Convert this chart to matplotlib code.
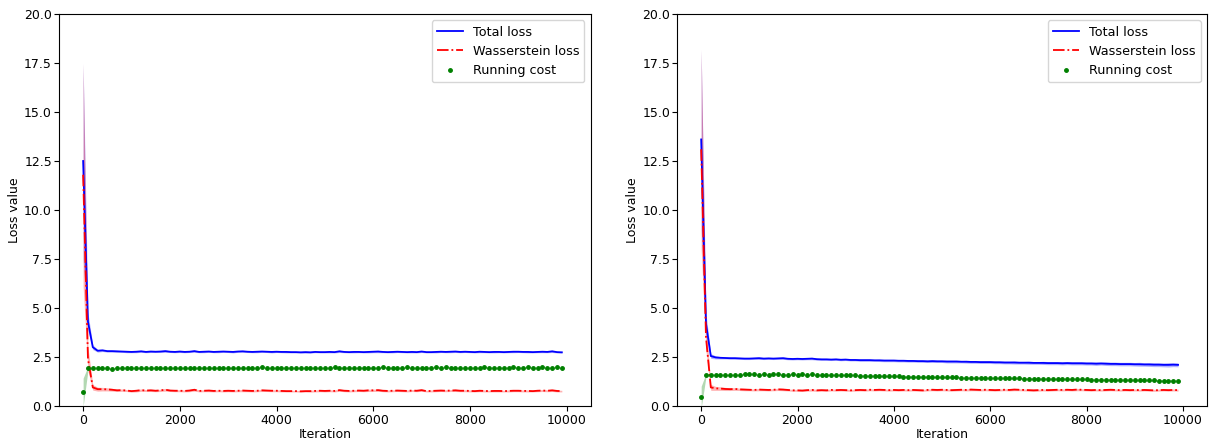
import numpy as np
import matplotlib
matplotlib.use('Agg')
import matplotlib.pyplot as plt

plt.rcParams['font.size'] = 9

iteration = list(range(0, 10000, 100))

# left run
total_a = [12.5, 4.3, 3.0, 2.82, 2.84, 2.80, 2.80, 2.79, 2.78, 2.77,
           2.76, 2.77, 2.79, 2.76, 2.78, 2.77, 2.78, 2.80, 2.77, 2.76,
           2.78, 2.76, 2.77, 2.80, 2.76, 2.77, 2.78, 2.76, 2.77, 2.78,
           2.77, 2.76, 2.78, 2.79, 2.77, 2.76, 2.77, 2.78, 2.77, 2.76,
           2.77, 2.76, 2.76, 2.75, 2.75, 2.74, 2.75, 2.74, 2.76, 2.75,
           2.75, 2.76, 2.75, 2.79, 2.76, 2.75, 2.76, 2.76, 2.75, 2.76,
           2.77, 2.78, 2.76, 2.75, 2.76, 2.77, 2.76, 2.75, 2.76, 2.75,
           2.78, 2.75, 2.75, 2.76, 2.77, 2.76, 2.77, 2.78, 2.76, 2.77,
           2.76, 2.75, 2.77, 2.76, 2.75, 2.76, 2.76, 2.75, 2.76, 2.77,
           2.77, 2.76, 2.76, 2.75, 2.76, 2.77, 2.76, 2.79, 2.75, 2.74]
total_a_sd = [5.0, 0.45, 0.12, 0.07, 0.06, 0.05, 0.05, 0.05, 0.04, 0.05,
              0.04, 0.05, 0.05, 0.04, 0.05, 0.04, 0.05, 0.06, 0.04, 0.04,
              0.05, 0.04, 0.04, 0.06, 0.04, 0.05, 0.04, 0.04, 0.05, 0.04,
              0.04, 0.05, 0.04, 0.05, 0.04, 0.04, 0.05, 0.04, 0.04, 0.05,
              0.04, 0.04, 0.05, 0.04, 0.04, 0.04, 0.05, 0.04, 0.04, 0.04,
              0.04, 0.05, 0.04, 0.06, 0.04, 0.04, 0.05, 0.04, 0.04, 0.05,
              0.05, 0.06, 0.04, 0.04, 0.05, 0.04, 0.04, 0.04, 0.05, 0.04,
              0.05, 0.04, 0.04, 0.05, 0.04, 0.04, 0.05, 0.05, 0.04, 0.04,
              0.04, 0.04, 0.05, 0.04, 0.04, 0.05, 0.04, 0.04, 0.04, 0.05,
              0.04, 0.04, 0.05, 0.04, 0.04, 0.05, 0.04, 0.06, 0.04, 0.04]
wass_a = [11.8, 2.4, 0.95, 0.86, 0.86, 0.85, 0.83, 0.80, 0.81, 0.79,
          0.76, 0.78, 0.81, 0.79, 0.80, 0.78, 0.80, 0.83, 0.79, 0.78,
          0.78, 0.77, 0.79, 0.83, 0.77, 0.78, 0.79, 0.77, 0.78, 0.77,
          0.78, 0.77, 0.78, 0.79, 0.78, 0.77, 0.78, 0.80, 0.79, 0.78,
          0.78, 0.77, 0.76, 0.76, 0.76, 0.75, 0.76, 0.76, 0.77, 0.78,
          0.77, 0.78, 0.77, 0.81, 0.78, 0.77, 0.78, 0.79, 0.78, 0.80,
          0.80, 0.81, 0.78, 0.77, 0.78, 0.79, 0.78, 0.77, 0.79, 0.78,
          0.81, 0.76, 0.77, 0.78, 0.79, 0.78, 0.79, 0.80, 0.78, 0.78,
          0.77, 0.76, 0.78, 0.77, 0.76, 0.77, 0.77, 0.76, 0.77, 0.78,
          0.78, 0.77, 0.77, 0.76, 0.78, 0.79, 0.78, 0.80, 0.77, 0.76]
wass_a_sd = [5.7, 0.6, 0.14, 0.10, 0.09, 0.08, 0.07, 0.06, 0.06, 0.05,
             0.05, 0.06, 0.06, 0.05, 0.06, 0.05, 0.06, 0.07, 0.05, 0.05,
             0.05, 0.05, 0.06, 0.07, 0.05, 0.05, 0.06, 0.05, 0.05, 0.05,
             0.05, 0.05, 0.05, 0.06, 0.05, 0.05, 0.05, 0.06, 0.05, 0.05,
             0.05, 0.05, 0.04, 0.04, 0.04, 0.04, 0.04, 0.05, 0.05, 0.05,
             0.05, 0.05, 0.05, 0.06, 0.05, 0.05, 0.05, 0.05, 0.05, 0.06,
             0.06, 0.06, 0.05, 0.05, 0.05, 0.05, 0.05, 0.05, 0.05, 0.05,
             0.06, 0.04, 0.05, 0.05, 0.05, 0.05, 0.05, 0.06, 0.05, 0.05,
             0.05, 0.04, 0.05, 0.05, 0.04, 0.05, 0.05, 0.04, 0.05, 0.05,
             0.05, 0.05, 0.05, 0.04, 0.05, 0.05, 0.05, 0.06, 0.05, 0.04]
run_a = [0.70, 1.92, 1.93, 1.93, 1.93, 1.92, 1.91, 1.94, 1.94, 1.93,
         1.95, 1.94, 1.93, 1.95, 1.94, 1.93, 1.96, 1.92, 1.94, 1.95,
         1.95, 1.94, 1.95, 1.93, 1.96, 1.95, 1.94, 1.94, 1.95, 1.96,
         1.95, 1.94, 1.96, 1.95, 1.94, 1.95, 1.96, 1.97, 1.95, 1.94,
         1.95, 1.96, 1.95, 1.96, 1.95, 1.94, 1.95, 1.96, 1.95, 1.94,
         1.95, 1.96, 1.97, 1.96, 1.95, 1.96, 1.95, 1.96, 1.96, 1.95,
         1.95, 1.96, 1.97, 1.96, 1.95, 1.96, 1.95, 1.97, 1.96, 1.95,
         1.95, 1.96, 1.96, 1.97, 1.96, 1.97, 1.96, 1.96, 1.95, 1.96,
         1.96, 1.95, 1.96, 1.97, 1.96, 1.96, 1.95, 1.96, 1.96, 1.97,
         1.96, 1.96, 1.97, 1.96, 1.96, 1.97, 1.96, 1.96, 1.97, 1.96]
run_a_sd = [0.72, 0.10, 0.03, 0.02, 0.02, 0.02, 0.02, 0.02, 0.02, 0.02,
            0.02, 0.02, 0.02, 0.02, 0.02, 0.02, 0.02, 0.02, 0.02, 0.02,
            0.02, 0.02, 0.02, 0.02, 0.02, 0.02, 0.02, 0.02, 0.02, 0.02,
            0.02, 0.02, 0.02, 0.02, 0.02, 0.02, 0.02, 0.02, 0.02, 0.02,
            0.02, 0.02, 0.02, 0.02, 0.02, 0.02, 0.02, 0.02, 0.02, 0.02,
            0.02, 0.02, 0.02, 0.02, 0.02, 0.02, 0.02, 0.02, 0.02, 0.02,
            0.02, 0.02, 0.02, 0.02, 0.02, 0.02, 0.02, 0.02, 0.02, 0.02,
            0.02, 0.02, 0.02, 0.02, 0.02, 0.02, 0.02, 0.02, 0.02, 0.02,
            0.02, 0.02, 0.02, 0.02, 0.02, 0.02, 0.02, 0.02, 0.02, 0.02,
            0.02, 0.02, 0.02, 0.02, 0.02, 0.02, 0.02, 0.02, 0.02, 0.02]

# right run
total_b = [13.6, 4.2, 2.55, 2.48, 2.46, 2.45, 2.44, 2.44, 2.43, 2.42,
           2.42, 2.43, 2.44, 2.42, 2.43, 2.42, 2.43, 2.44, 2.41, 2.40,
           2.41, 2.40, 2.41, 2.42, 2.39, 2.38, 2.38, 2.37, 2.38, 2.36,
           2.37, 2.35, 2.35, 2.34, 2.34, 2.34, 2.33, 2.33, 2.32, 2.32,
           2.32, 2.31, 2.31, 2.30, 2.30, 2.29, 2.29, 2.28, 2.29, 2.28,
           2.28, 2.27, 2.27, 2.27, 2.26, 2.26, 2.25, 2.25, 2.24, 2.24,
           2.24, 2.23, 2.23, 2.22, 2.22, 2.22, 2.21, 2.21, 2.21, 2.20,
           2.20, 2.20, 2.19, 2.19, 2.19, 2.18, 2.19, 2.18, 2.18, 2.18,
           2.17, 2.17, 2.16, 2.17, 2.16, 2.15, 2.15, 2.14, 2.14, 2.14,
           2.13, 2.13, 2.12, 2.12, 2.11, 2.11, 2.10, 2.10, 2.11, 2.10]
total_b_sd = [4.6, 0.5, 0.12, 0.08, 0.06, 0.05, 0.05, 0.05, 0.05, 0.05,
              0.05, 0.05, 0.06, 0.05, 0.05, 0.05, 0.05, 0.06, 0.05, 0.05,
              0.05, 0.05, 0.05, 0.06, 0.05, 0.05, 0.05, 0.05, 0.05, 0.05,
              0.05, 0.05, 0.05, 0.06, 0.06, 0.06, 0.05, 0.06, 0.06, 0.06,
              0.06, 0.06, 0.06, 0.06, 0.06, 0.06, 0.06, 0.06, 0.07, 0.06,
              0.06, 0.07, 0.07, 0.07, 0.06, 0.07, 0.07, 0.07, 0.07, 0.07,
              0.07, 0.07, 0.07, 0.07, 0.07, 0.08, 0.07, 0.07, 0.08, 0.07,
              0.07, 0.08, 0.08, 0.08, 0.08, 0.08, 0.08, 0.08, 0.08, 0.08,
              0.08, 0.08, 0.09, 0.08, 0.09, 0.09, 0.09, 0.09, 0.09, 0.09,
              0.09, 0.10, 0.09, 0.10, 0.10, 0.10, 0.10, 0.11, 0.10, 0.10]
wass_b = [13.1, 3.5, 0.95, 0.90, 0.89, 0.87, 0.86, 0.87, 0.85, 0.84,
          0.83, 0.82, 0.84, 0.83, 0.82, 0.83, 0.85, 0.84, 0.82, 0.80,
          0.80, 0.79, 0.81, 0.82, 0.80, 0.81, 0.80, 0.82, 0.81, 0.82,
          0.81, 0.80, 0.81, 0.82, 0.81, 0.83, 0.82, 0.83, 0.82, 0.81,
          0.82, 0.81, 0.82, 0.81, 0.82, 0.81, 0.80, 0.82, 0.83, 0.82,
          0.83, 0.82, 0.81, 0.82, 0.83, 0.82, 0.84, 0.83, 0.82, 0.83,
          0.82, 0.81, 0.82, 0.83, 0.82, 0.84, 0.83, 0.82, 0.81, 0.80,
          0.81, 0.82, 0.81, 0.82, 0.83, 0.82, 0.83, 0.82, 0.84, 0.83,
          0.82, 0.81, 0.82, 0.81, 0.82, 0.83, 0.82, 0.81, 0.82, 0.81,
          0.82, 0.81, 0.82, 0.81, 0.80, 0.81, 0.82, 0.81, 0.82, 0.81]
wass_b_sd = [5.1, 0.7, 0.15, 0.10, 0.09, 0.08, 0.07, 0.07, 0.06, 0.06,
             0.05, 0.05, 0.06, 0.05, 0.05, 0.05, 0.06, 0.06, 0.05, 0.05,
             0.05, 0.05, 0.05, 0.06, 0.05, 0.05, 0.05, 0.05, 0.05, 0.05,
             0.05, 0.05, 0.05, 0.05, 0.05, 0.05, 0.05, 0.05, 0.05, 0.05,
             0.05, 0.05, 0.05, 0.05, 0.05, 0.05, 0.05, 0.05, 0.05, 0.05,
             0.05, 0.05, 0.05, 0.05, 0.05, 0.05, 0.06, 0.05, 0.05, 0.05,
             0.05, 0.05, 0.05, 0.05, 0.05, 0.06, 0.05, 0.05, 0.05, 0.05,
             0.05, 0.05, 0.05, 0.05, 0.05, 0.05, 0.05, 0.05, 0.06, 0.05,
             0.05, 0.05, 0.05, 0.05, 0.05, 0.05, 0.05, 0.05, 0.05, 0.05,
             0.05, 0.05, 0.05, 0.05, 0.05, 0.05, 0.05, 0.05, 0.05, 0.05]
run_b = [0.46, 1.58, 1.59, 1.59, 1.60, 1.59, 1.58, 1.60, 1.60, 1.61,
         1.62, 1.61, 1.60, 1.61, 1.60, 1.61, 1.63, 1.60, 1.60, 1.61,
         1.60, 1.61, 1.60, 1.61, 1.60, 1.59, 1.59, 1.58, 1.58, 1.57,
         1.57, 1.56, 1.56, 1.55, 1.54, 1.54, 1.53, 1.53, 1.52, 1.52,
         1.51, 1.51, 1.50, 1.50, 1.50, 1.49, 1.49, 1.48, 1.48, 1.48,
         1.47, 1.47, 1.46, 1.46, 1.45, 1.45, 1.45, 1.44, 1.45, 1.44,
         1.43, 1.43, 1.42, 1.42, 1.41, 1.41, 1.41, 1.40, 1.40, 1.40,
         1.39, 1.39, 1.39, 1.38, 1.38, 1.38, 1.37, 1.37, 1.37, 1.36,
         1.36, 1.35, 1.35, 1.35, 1.34, 1.34, 1.34, 1.33, 1.33, 1.33,
         1.32, 1.32, 1.31, 1.31, 1.31, 1.30, 1.30, 1.30, 1.29, 1.29]
run_b_sd = [0.55, 0.08, 0.03, 0.02, 0.02, 0.02, 0.02, 0.02, 0.02, 0.02,
            0.02, 0.02, 0.02, 0.02, 0.02, 0.02, 0.02, 0.02, 0.02, 0.02,
            0.02, 0.02, 0.02, 0.02, 0.02, 0.02, 0.02, 0.02, 0.02, 0.02,
            0.02, 0.02, 0.02, 0.03, 0.03, 0.03, 0.03, 0.03, 0.03, 0.03,
            0.03, 0.03, 0.03, 0.03, 0.03, 0.03, 0.03, 0.03, 0.03, 0.03,
            0.03, 0.03, 0.03, 0.03, 0.03, 0.03, 0.03, 0.03, 0.03, 0.03,
            0.03, 0.03, 0.03, 0.03, 0.04, 0.04, 0.04, 0.04, 0.04, 0.04,
            0.04, 0.04, 0.04, 0.04, 0.04, 0.04, 0.04, 0.04, 0.04, 0.04,
            0.04, 0.04, 0.04, 0.04, 0.04, 0.05, 0.05, 0.05, 0.05, 0.05,
            0.05, 0.05, 0.05, 0.05, 0.05, 0.05, 0.05, 0.05, 0.05, 0.05]

runs = [(total_a, total_a_sd, wass_a, wass_a_sd, run_a, run_a_sd),
        (total_b, total_b_sd, wass_b, wass_b_sd, run_b, run_b_sd)]


def band(ax, x, m, s, color):
    m = np.array(m)
    s = np.array(s)
    ax.fill_between(x, m - s, m + s, color=color, alpha=0.3, lw=0)


fig = plt.figure(figsize=(12.13, 4.42), dpi=100)
rects = [[0.0486, 0.0814, 0.4385, 0.8869], [0.5582, 0.0814, 0.4368, 0.8869]]

for rect, (tot, tot_sd, wass, wass_sd, run, run_sd) in zip(rects, runs):
    ax = fig.add_axes(rect)
    band(ax, iteration, tot, tot_sd, 'blue')
    band(ax, iteration, wass, wass_sd, 'red')
    band(ax, iteration, run, run_sd, 'green')
    ax.plot(iteration, tot, '-', color='blue', lw=1.3, label='Total loss')
    ax.plot(iteration, wass, '-.', color='red', lw=1.3, label='Wasserstein loss')
    ax.plot(iteration, run, '.', color='green', ms=5, label='Running cost')
    ax.set_ylim(0, 20)
    ax.set_xlim(-500, 10500)
    ax.tick_params(axis='y', pad=1.5)
    ax.tick_params(axis='x', pad=2)
    ax.set_xlabel('Iteration', labelpad=1)
    ax.set_ylabel('Loss value', labelpad=2)
    ax.legend(loc='upper right', fontsize=9.2)

plt.savefig('out.png', dpi=100)
